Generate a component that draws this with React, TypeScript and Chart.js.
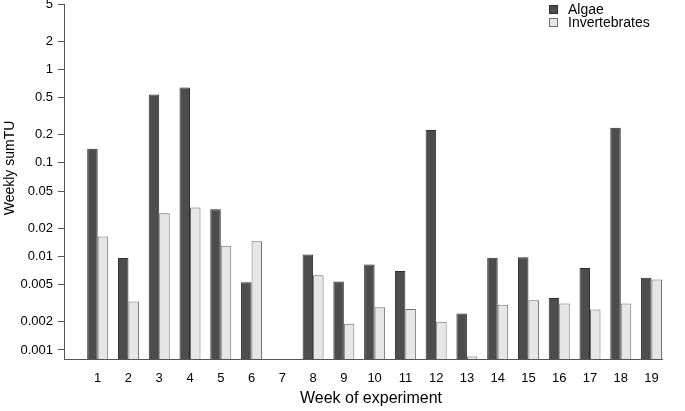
import React, { useEffect, useRef } from 'react';
import { Chart, registerables } from 'chart.js';

Chart.register(...registerables);

const weeks = [1, 2, 3, 4, 5, 6, 7, 8, 9, 10, 11, 12, 13, 14, 15, 16, 17, 18, 19];
const algae = [0.142, 0.0096, 0.54, 0.64, 0.032, 0.0053, null, 0.0105, 0.0054, 0.0082, 0.007, 0.225, 0.00245, 0.0097, 0.0098, 0.0036, 0.0075, 0.237, 0.0059];
const invertebrates = [0.0163, 0.0033, 0.029, 0.0333, 0.013, 0.0145, null, 0.0063, 0.0019, 0.00286, 0.00274, 0.002, 0.00085, 0.00305, 0.0034, 0.00313, 0.0027, 0.00313, 0.00565];
const yTickValues = [0.001, 0.002, 0.005, 0.01, 0.02, 0.05, 0.1, 0.2, 0.5, 1, 2, 5];
const seriesLabels = ['Algae', 'Invertebrates'];
const xTitle = 'Week of experiment';
const yTitle = 'Weekly sumTU';

const FONT = '"Liberation Sans", Arial, sans-serif';
const AXIS = '#555555';

const annotations = {
  id: 'annotations',
  afterDraw(chart: any) {
    const ctx = chart.ctx;
    ctx.save();
    ctx.fillStyle = '#000';
    // axis titles
    ctx.font = `16px ${FONT}`;
    ctx.textAlign = 'center';
    ctx.textBaseline = 'middle';
    ctx.fillText(xTitle, 371, 399);
    ctx.save();
    ctx.translate(10, 168);
    ctx.rotate(-Math.PI / 2);
    ctx.font = `14px ${FONT}`;
    ctx.fillText(yTitle, 0, 0);
    ctx.restore();
    // legend
    ctx.font = `14px ${FONT}`;
    ctx.textAlign = 'left';
    ctx.textBaseline = 'middle';
    chart.data.datasets.forEach((ds: any, i: number) => {
      const cy = 9.5 + i * 13;
      ctx.fillStyle = ds.backgroundColor;
      ctx.fillRect(549.5, cy - 4, 8, 8);
      ctx.strokeStyle = ds.borderColor;
      ctx.lineWidth = 1;
      ctx.strokeRect(549.5, cy - 4, 8, 8);
      ctx.fillStyle = '#000';
      ctx.fillText(ds.label, 568, cy + 0.5);
    });
    ctx.restore();
  },
};

export default function App() {
  const ref = useRef<HTMLCanvasElement>(null);
  useEffect(() => {
    if (!ref.current) return;
    const chart = new Chart(ref.current, {
      type: 'bar',
      data: {
        datasets: [
          {
            label: seriesLabels[0],
            data: weeks.map((w, i) => ({ x: w, y: algae[i] })) as any,
            backgroundColor: '#4d4d4d',
            borderColor: '#2e2e2e',
            borderWidth: 1,
          },
          {
            label: seriesLabels[1],
            data: weeks.map((w, i) => ({ x: w, y: invertebrates[i] })) as any,
            backgroundColor: '#e6e6e6',
            borderColor: '#6e6e6e',
            borderWidth: 1,
          },
        ],
      },
      options: {
        responsive: false,
        animation: false,
        categoryPercentage: 0.682,
        barPercentage: 1,
        layout: { padding: { left: 0, right: 23, top: 4, bottom: 0 } },
        plugins: { legend: { display: false }, tooltip: { enabled: false } },
        scales: {
          x: {
            type: 'linear',
            min: -0.095,
            max: 19.34,
            bounds: 'data',
            offset: false,
            grid: { display: true, offset: false, drawOnChartArea: false, drawTicks: false },
            border: { display: true, color: AXIS, width: 1 },
            ticks: {
              autoSkip: false,
              padding: 12,
              color: '#000',
              font: { family: FONT, size: 13 },
              callback: (v: any) => String(v),
            },
            afterBuildTicks: (scale: any) => {
              scale.ticks = weeks.map((w) => ({ value: w }));
            },
            afterFit: (scale: any) => {
              scale.height = 52;
              scale.paddingLeft = 0;
              scale.paddingRight = 0;
            },
          },
          y: {
            type: 'logarithmic',
            min: 0.0008,
            max: 5,
            grid: { display: true, drawOnChartArea: false, drawTicks: true, tickLength: 6, tickColor: AXIS, tickWidth: 1 },
            border: { display: true, color: AXIS, width: 1 },
            ticks: {
              autoSkip: false,
              padding: 5,
              color: '#000',
              font: { family: FONT, size: 13 },
              callback: (v: any) => String(v),
            },
            afterBuildTicks: (scale: any) => {
              scale.ticks = yTickValues.map((v) => ({ value: v }));
            },
            afterFit: (scale: any) => {
              scale.width = 64;
              scale.paddingTop = 0;
              scale.paddingBottom = 0;
            },
          },
        },
      } as any,
      plugins: [annotations],
    });
    return () => chart.destroy();
  }, []);
  return (
    <div style={{ position: 'fixed', left: 0, top: 0, width: 685, height: 411, background: '#fff' }}>
      <canvas ref={ref} width={685} height={411} />
    </div>
  );
}
